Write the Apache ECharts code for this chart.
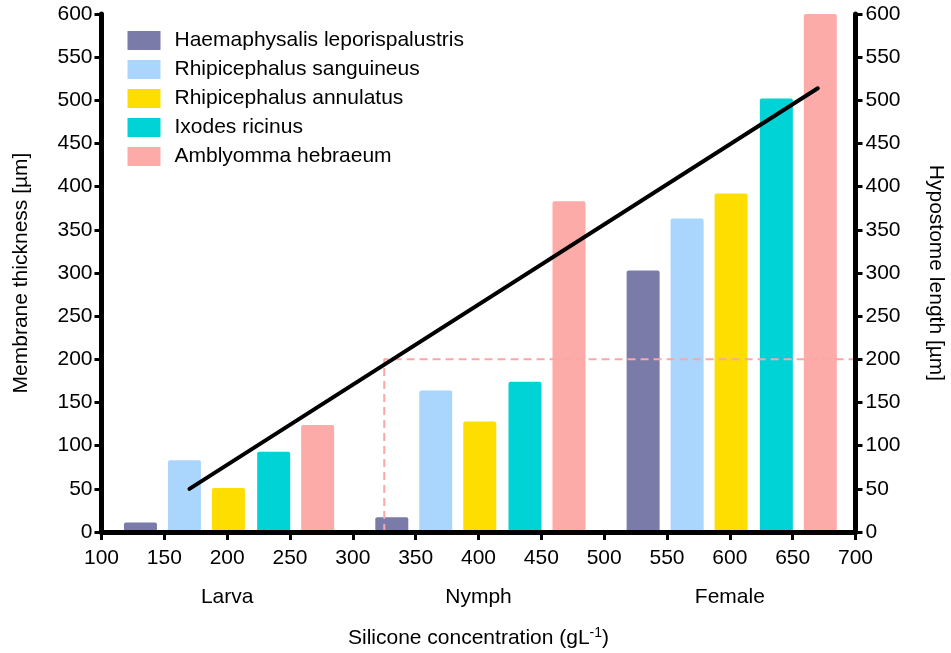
<!DOCTYPE html>
<html>
<head>
<meta charset="utf-8">
<script src="https://cdn.jsdelivr.net/npm/echarts@6/dist/echarts.min.js"></script>
<style>
  html, body { margin: 0; padding: 0; background: #fff; }
  #chart { width: 951px; height: 653px; }
</style>
</head>
<body>
<div id="chart"></div>
<script>
// Tick species and their bar colours
const species = [
  'Haemaphysalis leporispalustris',
  'Rhipicephalus sanguineus',
  'Rhipicephalus annulatus',
  'Ixodes ricinus',
  'Amblyomma hebraeum'
];
const colors = ['#7b7ba9', '#aad5fd', '#fedd00', '#00d3d6', '#fdaba8'];

// Life stages and where each stage group sits on the concentration axis
const stages = ['Larva', 'Nymph', 'Female'];
const stageCenters = [200, 400, 600];

// Bar positions (silicone concentration, gL-1) per species, one per stage
const xHaemaphysalis = [131, 331, 531];
const xSanguineus   = [166, 366, 566];
const xAnnulatus    = [201, 401, 601];
const xIxodes       = [237, 437, 637];
const xAmblyomma    = [272, 472, 672];

// Membrane thickness [µm] per species, one per stage (Larva, Nymph, Female)
const yHaemaphysalis = [11, 17, 303];
const ySanguineus   = [83, 164, 363];
const yAnnulatus    = [51, 128, 392];
const yIxodes       = [93, 174, 502];
const yAmblyomma    = [124, 383, 602];

// Hypostome length trend line (concentration, length)
const trendX = [170, 670];
const trendY = [50, 514];

// Reference guide: concentration 325 gL-1 at 200 µm
const guideX = [325, 325, 700];
const guideY = [0, 200, 200];

const xs = [xHaemaphysalis, xSanguineus, xAnnulatus, xIxodes, xAmblyomma];
const ys = [yHaemaphysalis, ySanguineus, yAnnulatus, yIxodes, yAmblyomma];

const FONT = '"Liberation Sans", Arial, Helvetica, sans-serif';
const txt = { color: '#000', fontFamily: FONT, fontSize: 21 };

const pair = (a, b) => a.map((v, i) => [v, b[i]]);

const barSeries = species.map((name, i) => ({
  name: name,
  type: 'bar',
  xAxisIndex: 0,
  yAxisIndex: 0,
  barWidth: 33,
  barGap: '-100%',
  itemStyle: { color: colors[i], borderRadius: [2, 2, 0, 0] },
  data: pair(xs[i], ys[i]),
  z: 2
}));

const chart = echarts.init(document.getElementById('chart'), null, { renderer: 'canvas' });

const valueAxisCommon = {
  axisLine: { show: true, onZero: false, lineStyle: { color: '#000', width: 5 } },
  axisTick: { show: true, inside: false, lineStyle: { color: '#000', width: 3 } },
  splitLine: { show: false },
  z: 10
};

chart.setOption({
  animation: false,
  backgroundColor: '#fff',
  textStyle: { fontFamily: FONT },
  grid: {
    left: 101.5, top: 14, right: 95.5, bottom: 121,
    outerBoundsMode: 'none'
  },
  legend: {
    orient: 'vertical',
    left: 127.5,
    top: 30,
    padding: 0,
    icon: 'rect',
    itemWidth: 33,
    itemHeight: 19,
    itemGap: 8,
    textStyle: Object.assign({}, txt, { padding: [0, 0, 0, 9] }),
    data: species
  },
  xAxis: [
    Object.assign({}, valueAxisCommon, {
      type: 'value',
      position: 'bottom',
      min: 100,
      max: 700,
      interval: 50,
      axisTick: { show: true, length: 8, lineStyle: { color: '#000', width: 3 } },
      axisLabel: Object.assign({}, txt, { margin: 16 }),
      name: '{m|Silicone concentration (gL}{s|-1}{m|)}',
      nameLocation: 'middle',
      nameGap: 94,
      nameTextStyle: {
        rich: {
          m: Object.assign({}, txt, { lineHeight: 25 }),
          s: Object.assign({}, txt, { fontSize: 14, verticalAlign: 'top', lineHeight: 25 })
        }
      }
    }),
    {
      // Stage names under each group of bars
      type: 'value',
      position: 'bottom',
      min: 100,
      max: 700,
      interval: 100,
      axisLine: { show: false },
      axisTick: { show: false },
      splitLine: { show: false },
      axisLabel: Object.assign({}, txt, {
        margin: 55,
        showMinLabel: false,
        showMaxLabel: false,
        formatter: function (v) {
          const k = stageCenters.indexOf(v);
          return k >= 0 ? stages[k] : '';
        }
      })
    }
  ],
  yAxis: [
    Object.assign({}, valueAxisCommon, {
      type: 'value',
      position: 'left',
      min: 0,
      max: 600,
      interval: 50,
      axisTick: { show: true, length: 7, lineStyle: { color: '#000', width: 3 } },
      axisLabel: Object.assign({}, txt, { margin: 9 }),
      name: 'Membrane thickness [µm]',
      nameLocation: 'middle',
      nameRotate: 90,
      nameGap: 70,
      nameTextStyle: txt
    }),
    Object.assign({}, valueAxisCommon, {
      type: 'value',
      position: 'right',
      min: 0,
      max: 600,
      interval: 50,
      axisTick: { show: true, length: 7, lineStyle: { color: '#000', width: 3 } },
      axisLabel: Object.assign({}, txt, { margin: 10 }),
      name: 'Hypostome length [µm]',
      nameLocation: 'middle',
      nameRotate: -90,
      nameGap: 70,
      nameTextStyle: txt
    })
  ],
  series: barSeries.concat([
    {
      name: 'Hypostome trend',
      type: 'line',
      xAxisIndex: 0,
      yAxisIndex: 1,
      symbol: 'none',
      lineStyle: { color: '#000', width: 4, cap: 'round' },
      data: pair(trendX, trendY),
      z: 6
    },
    {
      name: 'Guide',
      type: 'line',
      xAxisIndex: 0,
      yAxisIndex: 0,
      symbol: 'none',
      lineStyle: { color: '#f9a7a7', width: 2, type: [8, 5] },
      data: pair(guideX, guideY),
      z: 5
    }
  ])
});
</script>
</body>
</html>
